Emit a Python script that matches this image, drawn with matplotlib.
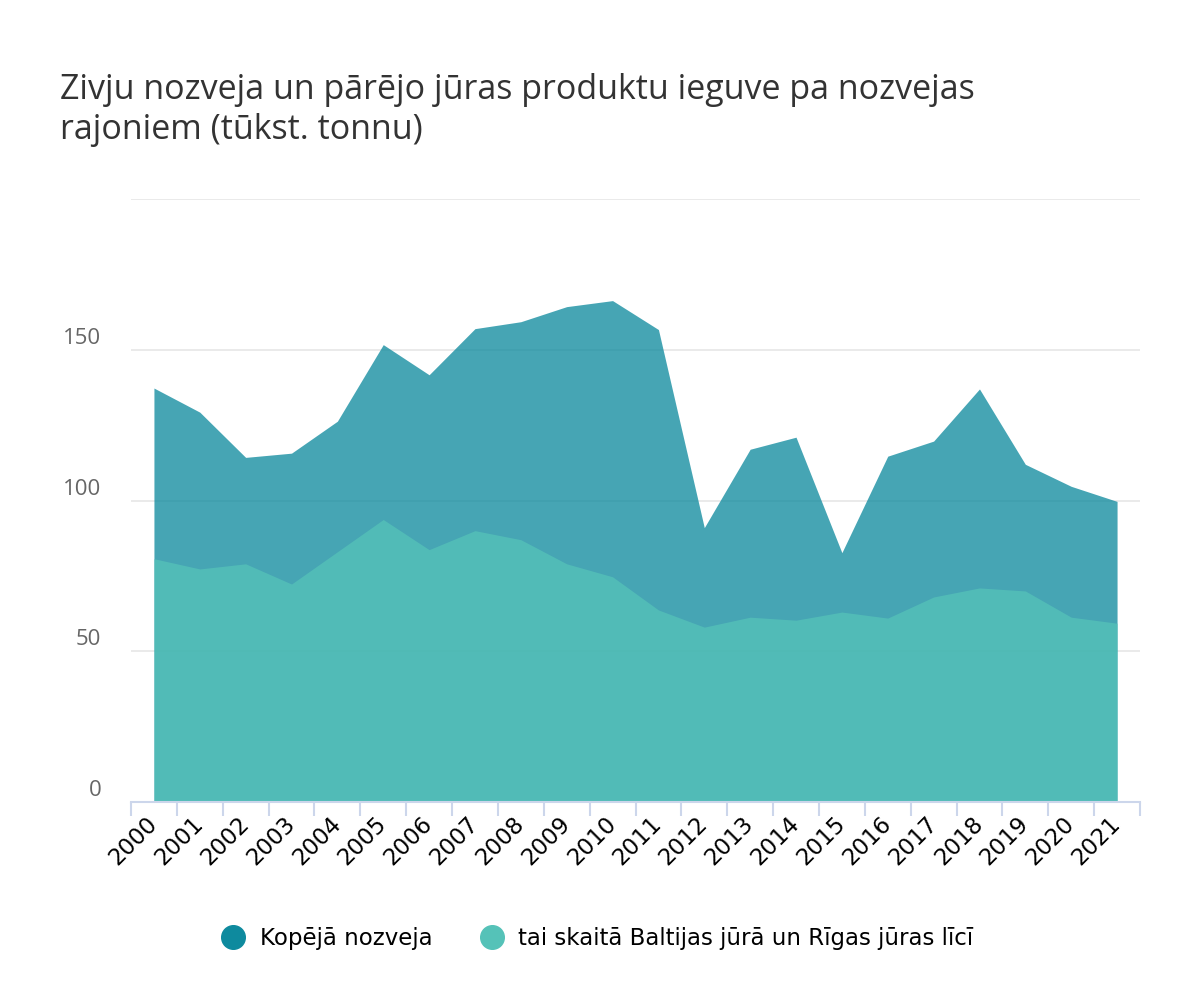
import matplotlib
matplotlib.use("Agg")
import matplotlib.pyplot as plt
from matplotlib.lines import Line2D
import numpy as np

years = [str(y) for y in range(2000, 2022)]
total = [137.3, 129.3, 114.3, 115.7, 126.3, 151.7, 141.7, 157.0, 159.3, 164.3, 166.3,
         156.7, 91.0, 117.0, 121.0, 82.7, 114.7, 119.7, 137.0, 112.0, 104.7, 99.7]
baltic = [80.7, 77.3, 79.0, 72.3, 83.0, 93.7, 83.7, 90.0, 87.0, 79.0, 74.7,
          63.7, 58.0, 61.3, 60.3, 63.0, 61.0, 68.0, 71.0, 70.0, 61.3, 59.3]
series_names = ["Kopējā nozveja", "tai skaitā Baltijas jūrā un Rīgas jūras līcī"]
yticks = [0, 50, 100, 150, 200]
ytick_labels = ["0", "50", "100", "150", ""]
title = "Zivju nozveja un pārējo jūras produktu ieguve pa nozvejas\nrajoniem (tūkst. tonnu)"

plt.rcParams['font.family'] = ['DejaVu Sans']

fig = plt.figure(figsize=(12, 10), dpi=100)
ax = fig.add_axes([131/1200, 1-802/1000, (1140-131)/1200, (802-199)/1000])

x = np.arange(len(years))
dark = '#0e8a9e'
light = '#55c2b8'
ax.fill_between(x, 0, total, color=dark, alpha=0.77, linewidth=0, zorder=2)
ax.fill_between(x, 0, baltic, color=light, alpha=0.77, linewidth=0, zorder=3)

ax.set_xlim(-0.5, len(years) - 0.5)
ax.set_ylim(0, 200)

# gridlines
ax.set_yticks(yticks)
ax.set_yticklabels([])
ax.tick_params(axis='y', length=0)
ax.grid(axis='y', color='#e6e6e6', linewidth=1.2, zorder=1)
ax.set_axisbelow(True)
for v, lab in zip(yticks, ytick_labels):
    ax.text(-1.15, v + 3.8, lab, transform=ax.transData, ha='right', va='center',
            fontsize=16, color='#666666', family=['Open Sans', 'DejaVu Sans'])

# x axis
ax.set_xticks(np.arange(-0.5, len(years), 1.0))
ax.set_xticklabels([])
ax.set_xticks(x, minor=True)
ax.set_xticklabels(years, minor=True, rotation=45, ha='right', va='center',
                   rotation_mode='anchor', fontsize=16.5, color='#000000')
ax.tick_params(axis='x', which='major', length=10, width=1.5, color='#ccd6eb', direction='out')
ax.tick_params(axis='x', which='minor', length=0, pad=13)

for s in ['top', 'right', 'left']:
    ax.spines[s].set_visible(False)
ax.spines['bottom'].set_color('#ccd6eb')
ax.spines['bottom'].set_linewidth(1.5)
ax.spines['bottom'].set_zorder(4)

fig.text(60/1200, 1-73/1000, title, ha='left', va='top', fontsize=24.5,
         color='#333333', linespacing=1.22, family=['Open Sans', 'DejaVu Sans'])

handles = [Line2D([0], [0], marker='o', linestyle='none', markersize=17,
                  markerfacecolor=c, markeredgecolor=c) for c in (dark, light)]
fig.legend(handles, series_names, loc='center', bbox_to_anchor=(592/1200, 1-939/1000),
           ncol=2, frameon=False, fontsize=16.5, handletextpad=0.15, columnspacing=1.6)

fig.savefig('out.png', dpi=100, facecolor='white')
